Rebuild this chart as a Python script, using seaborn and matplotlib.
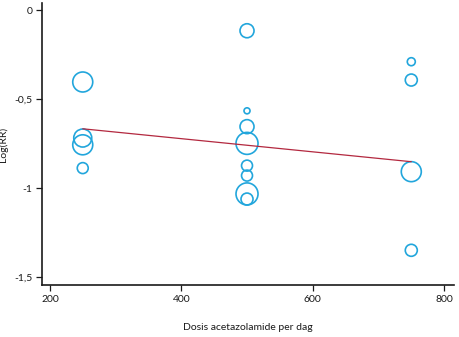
import matplotlib
matplotlib.use("Agg")
import matplotlib.pyplot as plt
import seaborn as sns
import pandas as pd
from matplotlib.ticker import FuncFormatter

# Meta-regression data: daily acetazolamide dose, log risk ratio and study weight
dose = [250, 250, 250, 250,
        500, 500, 500, 500, 500, 500, 500, 500,
        750, 750, 750, 750]
log_rr = [-0.404, -0.719, -0.757, -0.888,
          -0.116, -0.566, -0.655, -0.749, -0.874, -0.930, -1.033, -1.062,
          -0.290, -0.393, -0.908, -1.350]
weight = [100, 81, 100, 30,
          49, 9, 49, 121, 30, 30, 121, 36,
          16, 36, 100, 36]

# Fitted meta-regression line
fit_dose = [250, 750]
fit_log_rr = [-0.667, -0.852]

x_ticks = [200, 400, 600, 800]
y_ticks = [0, -0.5, -1, -1.5]

df = pd.DataFrame({"dose": dose, "log_rr": log_rr, "weight": weight})
fit = pd.DataFrame({"dose": fit_dose, "log_rr": fit_log_rr})

sns.set_style("white")
plt.rcParams["font.family"] = ["Lato", "DejaVu Sans"]

fig = plt.figure(figsize=(4.6, 3.37), dpi=100)
ax = fig.add_axes([42 / 460, 52 / 337, 412 / 460, 282 / 337])

blue = "#22a6dc"
sns.scatterplot(data=df, x="dose", y="log_rr", size="weight",
                sizes=(18.7, 251), facecolors="none", edgecolor=blue,
                linewidth=1.2, legend=False, ax=ax, zorder=2)
sns.lineplot(data=fit, x="dose", y="log_rr", color="#b3283f",
             linewidth=0.9, ax=ax, zorder=3)

ax.set_xlim(188, 815)
ax.set_ylim(-1.545, 0.04)
ax.set_xticks(x_ticks)
ax.set_yticks(y_ticks)
ax.yaxis.set_major_formatter(
    FuncFormatter(lambda v, p: f"{v:g}".replace(".", ",")))

for side in ("top", "right"):
    ax.spines[side].set_visible(False)
for side in ("left", "bottom"):
    ax.spines[side].set_color("#1a1a1a")
    ax.spines[side].set_linewidth(1.2)

ax.tick_params(axis="both", which="major", direction="out", length=4,
               width=0.9, color="#1a1a1a", labelsize=7.5, pad=3,
               labelcolor="#1a1a1a", bottom=True, left=True)
ax.set_xlabel("Dosis acetazolamide per dag", fontsize=7.5,
              color="#1a1a1a", labelpad=14)
ax.set_ylabel("Log(RR)", fontsize=7.5, color="#1a1a1a")
ax.yaxis.set_label_coords(-0.082, 0.5)

fig.savefig("out.png", dpi=100)
